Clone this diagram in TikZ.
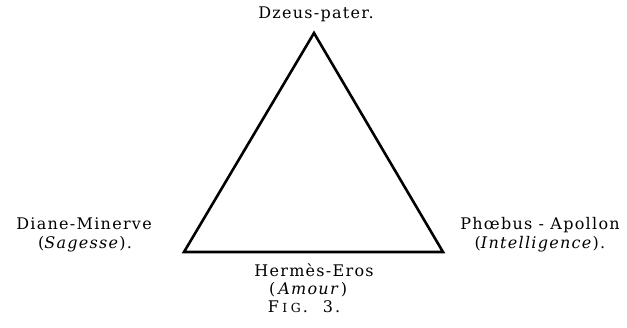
\documentclass[tikz,border=0pt]{standalone}
\usepackage{fontspec}
\setmainfont{DejaVu Serif}[LetterSpace=8]
\begin{document}
\begin{tikzpicture}[x=1pt,y=-1pt,
  lab/.style={anchor=base, inner sep=0pt, font=\fontsize{16}{16}\selectfont},
  edge/.style={line width=2.6pt, line join=miter, line cap=butt}]
\useasboundingbox (0,0) rectangle (627,327);
\coordinate (A) at (314,33);
\coordinate (B) at (184,252);
\coordinate (C) at (443,252);
\draw[edge] (A) -- (B) -- (C) -- cycle;
\node[lab] (zeus) at (316,18) {Dzeus-pater.};
\node[lab] (diane) at (84,229) {Diane-Minerve};
\node[lab] (sag) at (85,248) {(\textit{Sagesse}).};
\node[lab] (phoe) at (540,229) {Phœbus - Apollon};
\node[lab] (int) at (540,248) {(\textit{Intelligence}).};
\node[lab] (herm) at (314,276) {Hermès-Eros};
\node[lab] (amour) at (308,294) {(\hspace{3pt}\textit{Amour}\hspace{1pt})};
\node[lab] (fig) at (304,312) {F\kern3.5pt{\fontsize{12.5}{12.5}\selectfont I\kern3.5pt G}\kern2pt.\hspace{15pt}3\kern2pt.};
\end{tikzpicture}
\end{document}
